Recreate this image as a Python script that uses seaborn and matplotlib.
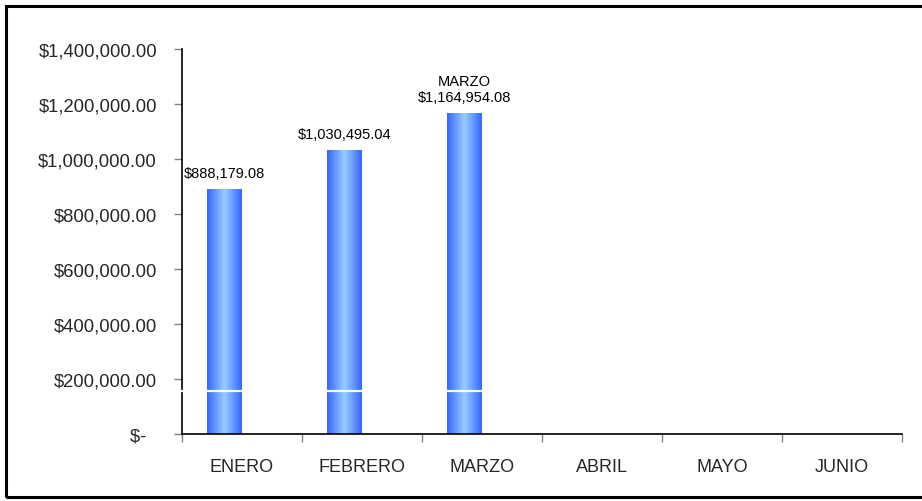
import numpy as np
import pandas as pd
import seaborn as sns
import matplotlib.pyplot as plt
from matplotlib.colors import LinearSegmentedColormap
from matplotlib.patches import Rectangle
from matplotlib.ticker import FuncFormatter

# datos del grafico
meses = ['ENERO', 'FEBRERO', 'MARZO', 'ABRIL', 'MAYO', 'JUNIO']
ventas = [888179.08, 1030495.04, 1164954.08, np.nan, np.nan, np.nan]
otra_serie = [np.nan] * 6
series = ['Ventas', 'Otra']

data = pd.DataFrame({
    'mes': meses * 2,
    'serie': [series[0]] * 6 + [series[1]] * 6,
    'monto': ventas + otra_serie,
})

sns.set_style('white')
plt.rcParams['font.family'] = ['Liberation Sans', 'DejaVu Sans']

fig = plt.figure(figsize=(9.22, 5.02), dpi=100)
ax = fig.add_axes([0.1974, 0.1335, 0.7809, 0.7669])

sns.barplot(data=data, x='mes', y='monto', hue='serie', order=meses,
            hue_order=series, width=0.58, legend=False, errorbar=None,
            ax=ax)

# barras con degradado azul
cmap = LinearSegmentedColormap.from_list('azul', ['#3366ff', '#99ccff', '#3366ff'])
grad = np.linspace(0, 1, 256).reshape(1, -1)
for p in ax.patches:
    h = p.get_height()
    if np.isnan(h) or h <= 0:
        continue
    x0 = p.get_x()
    w = p.get_width()
    p.set_facecolor('none')
    p.set_edgecolor('none')
    ax.imshow(grad, extent=[x0, x0 + w, 0, h], aspect='auto', cmap=cmap,
              interpolation='bicubic', zorder=2)

ax.set_xlim(-0.5, 5.5)
ax.set_ylim(0, 1400000)

# etiquetas de datos
for i, v in enumerate(ventas):
    if np.isnan(v):
        continue
    xc = i - 0.145
    txt = f'${v:,.2f}'
    if meses[i] == 'MARZO':
        txt = 'MARZO\n' + txt
    ax.annotate(txt, (xc, v), xytext=(0, 7), textcoords='offset points',
                ha='center', va='bottom', fontsize=10.5, color='black')


def dinero(y, pos):
    if y == 0:
        return '$-  '
    return f'${y:,.2f}'


ax.set_yticks(np.arange(0, 1400001, 200000))
ax.yaxis.set_major_formatter(FuncFormatter(dinero))
ax.set_xticks(range(len(meses)))
ax.set_xticklabels(meses)
ax.set_xticks(np.arange(-0.5, 6, 1), minor=True)
ax.tick_params(axis='x', which='major', length=0, pad=17, labelsize=13)
ax.tick_params(axis='x', which='minor', length=6, color='#808080', width=1,
               direction='out', bottom=True)
ax.tick_params(axis='y', length=6, color='#808080', width=1, direction='out',
               left=True, pad=12, labelsize=13.3)

ax.set_xlabel('')
ax.set_ylabel('')
sns.despine(ax=ax, top=True, right=True)
ax.spines['left'].set_color('black')
ax.spines['bottom'].set_color('black')
ax.spines['left'].set_linewidth(1.2)
ax.spines['bottom'].set_linewidth(1.2)

# linea blanca de corte
ax.axhline(156000, xmin=-0.25, xmax=1.0, color='white', lw=1.6,
           clip_on=False, zorder=5)

# marco exterior
fig.patches.append(Rectangle((6 / 922, 4 / 502), 1.0, 491 / 502,
                             transform=fig.transFigure, fill=False,
                             edgecolor='black', lw=2.2, zorder=0))

fig.savefig('out.png', dpi=100)
